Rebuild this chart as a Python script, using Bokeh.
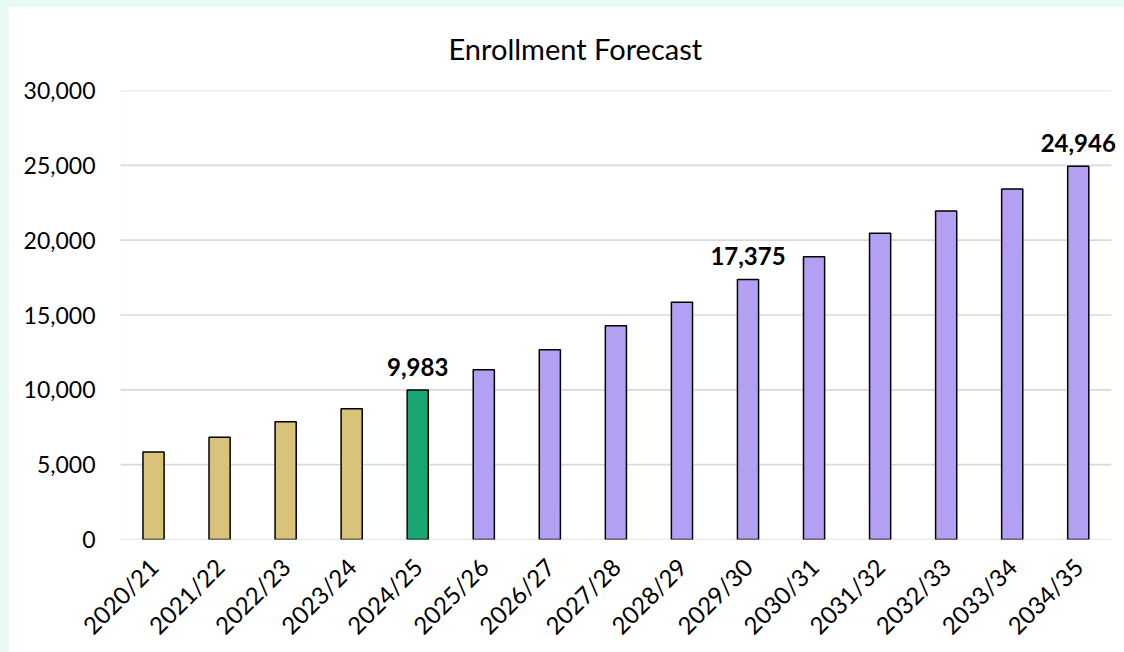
from bokeh.plotting import figure
from bokeh.models import (ColumnDataSource, LabelSet, NumeralTickFormatter, FixedTicker,
                          Range1d)
from bokeh.core.properties import value
from bokeh.transform import factor_cmap
from bokeh.embed import file_html
from bokeh.resources import INLINE
from math import pi

years = ["2020/21", "2021/22", "2022/23", "2023/24", "2024/25", "2025/26", "2026/27",
         "2027/28", "2028/29", "2029/30", "2030/31", "2031/32", "2032/33", "2033/34", "2034/35"]
enrollment = [5850, 6830, 7860, 8730, 9983, 11340, 12680, 14280, 15860, 17375,
              18900, 20460, 21950, 23420, 24946]
status = ["actual", "actual", "actual", "actual", "current", "forecast", "forecast",
          "forecast", "forecast", "forecast", "forecast", "forecast", "forecast", "forecast", "forecast"]
labelled_years = ["2024/25", "2029/30", "2034/35"]
y_ticks = [0, 5000, 10000, 15000, 20000, 25000, 30000]

FONT = "Lato"
n = len(years)
pos = list(range(n))

source = ColumnDataSource(dict(x=pos, year=years, value=enrollment, status=status))
lab_src = ColumnDataSource(dict(
    x=[i for i, y in zip(pos, years) if y in labelled_years],
    value=[v for y, v in zip(years, enrollment) if y in labelled_years],
    text=["{:,}".format(v) for y, v in zip(years, enrollment) if y in labelled_years],
))

# extra room on the right so the last value label is not clipped
p = figure(x_range=Range1d(-0.5, n - 0.5 + 0.2), y_range=(0, 30000), width=1116, height=646,
           output_backend="svg", toolbar_location=None,
           title="Enrollment Forecast",
           min_border_left=112, min_border_right=0, min_border_top=84, min_border_bottom=112)

p.title.align = "left"
p.title.offset = 328
p.title.vertical_align = "top"
p.title.standoff = 46
p.title.text_font = FONT
p.title.text_font_size = "29px"
p.title.text_font_style = "normal"
p.title.text_color = "#000000"

# horizontal gridlines spanning only the category area
grid_src = ColumnDataSource(dict(y=y_ticks, x0=[-0.5] * len(y_ticks), x1=[n - 0.5] * len(y_ticks)))
p.segment(x0="x0", x1="x1", y0="y", y1="y", source=grid_src,
          line_color="#d9d9d9", line_width=1.6)

p.vbar(x="x", top="value", width=0.32, source=source,
       fill_color=factor_cmap("status", palette=["#d9c27a", "#1aa673", "#b3a0f2"],
                              factors=["actual", "current", "forecast"]),
       line_color="#000000", line_width=1.5)

labels = LabelSet(x="x", y="value", text="text", source=lab_src,
                  text_align="center", text_baseline="bottom", y_offset=14,
                  text_font=value(FONT), text_font_size="24px", text_font_style="bold",
                  text_color="#000000")
p.add_layout(labels)

p.outline_line_color = None
p.background_fill_color = "#ffffff"
p.border_fill_color = "#ffffff"

p.xgrid.grid_line_color = None
p.ygrid.grid_line_color = None
p.yaxis.ticker = FixedTicker(ticks=y_ticks)
p.yaxis.formatter = NumeralTickFormatter(format="0,0")
p.yaxis.axis_line_color = None
p.yaxis.major_tick_line_color = None
p.yaxis.minor_tick_line_color = None
p.yaxis.major_label_standoff = 19
p.yaxis.major_label_text_font = FONT
p.yaxis.major_label_text_font_size = "23px"
p.yaxis.major_label_text_color = "#000000"

p.xaxis.ticker = FixedTicker(ticks=pos)
p.xaxis.major_label_overrides = {i: y for i, y in zip(pos, years)}
p.xaxis.axis_line_color = None
p.xaxis.major_tick_line_color = None
p.xaxis.minor_tick_line_color = None
p.xaxis.major_label_orientation = pi / 4
p.xaxis.major_label_standoff = 17
p.xaxis.major_label_text_font = FONT
p.xaxis.major_label_text_font_size = "24px"
p.xaxis.major_label_text_color = "#000000"

open("out.html", "w").write(file_html(p, INLINE).replace(
    "<body>", '<body style="background:#e8f8f2; margin:6px 0 0 8px">'))
